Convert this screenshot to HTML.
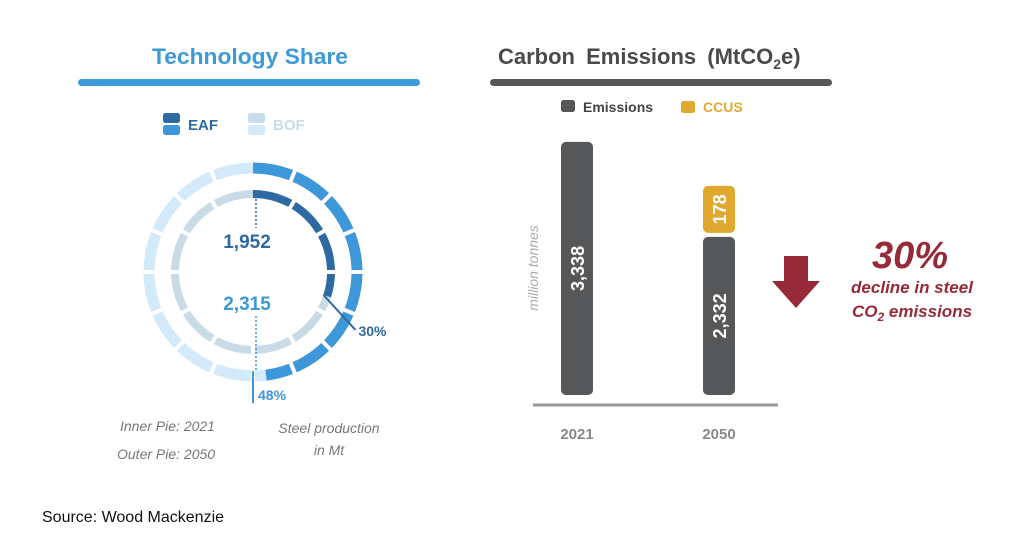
<!DOCTYPE html>
<html><head><meta charset="utf-8"><style>
body{margin:0;background:#fff;width:1024px;height:536px;overflow:hidden;font-family:"Liberation Sans",sans-serif}
svg text{font-family:"Liberation Sans",sans-serif}
</style></head><body>
<svg id="c" width="1024" height="536">
<text x="152" y="64" textLength="196" lengthAdjust="spacingAndGlyphs" font-size="22" font-weight="bold" fill="#3d9ad8">Technology  Share</text>
<rect x="78" y="79" width="342" height="7" rx="3.5" fill="#3d9ad8"/>
<text x="498" y="64" font-size="22" font-weight="bold" word-spacing="5" fill="#4a4a4c">Carbon Emissions (MtCO<tspan font-size="14" dy="5">2</tspan><tspan dy="-5">e)</tspan></text>
<rect x="490" y="79" width="342" height="7" rx="3.5" fill="#555759"/>
<g><rect x="163" y="113" width="17" height="10" rx="2.5" fill="#2e6aa1"/><rect x="163" y="125" width="17" height="10" rx="2.5" fill="#3d97d8"/><text x="188" y="130" font-size="15" font-weight="bold" fill="#2e6aa1">EAF</text></g>
<g><rect x="248" y="113" width="17" height="10" rx="2.5" fill="#c7dded"/><rect x="248" y="125" width="17" height="10" rx="2.5" fill="#d2eafa"/><text x="273" y="130" font-size="15" font-weight="bold" fill="#c7dded">BOF</text></g>
<g><rect x="561" y="100" width="14" height="12" rx="2.5" fill="#555759"/><text x="583" y="112" font-size="14" font-weight="bold" fill="#444">Emissions</text></g>
<g><rect x="681" y="101" width="14" height="12" rx="2.5" fill="#e0a82e"/><text x="703" y="112" font-size="14" font-weight="bold" fill="#e0a82e">CCUS</text></g>
<g id="donut"></g>
<g id="bars"></g>
<line x1="533" y1="405" x2="778" y2="405" stroke="#999" stroke-width="3"/>
<text transform="translate(538,268) rotate(-90)" text-anchor="middle" font-size="14" font-style="italic" fill="#aaa">million tonnes</text>
<g><rect x="784" y="256" width="24" height="26" fill="#962a39"/><polygon points="772,281 820,281 796,308" fill="#962a39"/></g>
<text x="910" y="268" text-anchor="middle" font-size="38" font-weight="bold" font-style="italic" fill="#962a39">30%</text>
<text x="912" y="293" text-anchor="middle" font-size="17" font-weight="bold" font-style="italic" fill="#962a39">decline in steel</text>
<text x="912" y="317" text-anchor="middle" font-size="17" font-weight="bold" font-style="italic" fill="#962a39">CO<tspan font-size="12" dy="4">2</tspan><tspan dy="-4"> emissions</tspan></text>
<text x="120" y="431" font-size="14" font-style="italic" fill="#777">Inner Pie: 2021</text>
<text x="117" y="459" font-size="14" font-style="italic" fill="#777">Outer Pie: 2050</text>
<text x="329" y="433" text-anchor="middle" font-size="14" font-style="italic" fill="#777">Steel production</text>
<text x="329" y="455" text-anchor="middle" font-size="14" font-style="italic" fill="#777">in Mt</text>
<text x="42" y="522" font-size="16" fill="#111">Source: Wood Mackenzie</text>
</svg>
<script>
const rings=["inner-2021","outer-2050"];
const eafShare=[30,48];
const totals=[1952,2315];
const years=["2021","2050"];
const emissions=[3338,2332];
const ccus=[0,178];

const NS="http://www.w3.org/2000/svg";
function mk(t,a,p){const e=document.createElementNS(NS,t);for(const k in a)e.setAttribute(k,a[k]);p.appendChild(e);return e;}
const cx=253,cy=272;
const geo=[{r:78,w:8,segs:12,eaf:"#2e6aa1",bof:"#c9dbe6"},{r:104,w:11,segs:16,eaf:"#3d97d8",bof:"#d2eafa"}];
const dg=document.getElementById("donut");
function pt(r,deg){const a=(deg-90)*Math.PI/180;return [cx+r*Math.cos(a),cy+r*Math.sin(a)];}
function arc(r,a0,a1){const p0=pt(r,a0),p1=pt(r,a1);return `M${p0[0]},${p0[1]} A${r},${r} 0 ${a1-a0>180?1:0} 1 ${p1[0]},${p1[1]}`;}
rings.forEach((nm,i)=>{
  const g=geo[i],ang=eafShare[i]*3.6;
  let e=mk("path",{d:arc(g.r,ang,360),fill:"none",stroke:g.bof,"stroke-width":g.w},dg);
  
  
  e=mk("path",{d:arc(g.r,0,ang),fill:"none",stroke:g.eaf,"stroke-width":g.w},dg);
  
  
  for(let s=1;s<g.segs;s++){const d=s*360/g.segs;const a=pt(g.r-g.w,d),b=pt(g.r+g.w,d);mk("line",{x1:a[0],y1:a[1],x2:b[0],y2:b[1],stroke:"#fff","stroke-width":4},dg);}
});
let t=mk("text",{x:cx-6,y:248,"text-anchor":"middle","font-size":19,"font-weight":"bold",fill:"#2e6aa1"},dg);t.textContent=totals[0].toLocaleString("en-US");


t=mk("text",{x:cx-6,y:310,"text-anchor":"middle","font-size":19,"font-weight":"bold",fill:"#3d97d8"},dg);t.textContent=totals[1].toLocaleString("en-US");


mk("line",{x1:cx+3,y1:cy-geo[0].r+5,x2:cx+3,y2:228,stroke:"#2e6aa1","stroke-width":1.5,"stroke-dasharray":"2,2"},dg);
mk("line",{x1:cx+3,y1:316,x2:cx+3,y2:cy+geo[1].r-6,stroke:"#3d97d8","stroke-width":1.5,"stroke-dasharray":"2,2"},dg);
const a30=eafShare[0]*3.6,p1=pt(geo[0].r-4,a30),p2=pt(geo[1].r+10,a30+8);
mk("line",{x1:p1[0],y1:p1[1],x2:p2[0],y2:p2[1]+8,stroke:"#2e6aa1","stroke-width":2},dg);
t=mk("text",{x:p2[0]+3,y:p2[1]+14,"font-size":14,"font-weight":"bold",fill:"#2e6aa1"},dg);t.textContent=eafShare[0]+"%";


const p3=pt(geo[1].r,eafShare[1]*3.6);
mk("line",{x1:cx,y1:p3[1]-4,x2:cx,y2:p3[1]+28,stroke:"#3d97d8","stroke-width":2},dg);
t=mk("text",{x:cx+5,y:p3[1]+25,"font-size":14,"font-weight":"bold",fill:"#3d97d8"},dg);t.textContent=eafShare[1]+"%";


const bg=document.getElementById("bars");
const base=395,bw=32;
const xs=i=>561+i*142;
const h=v=>-62+0.0944*v;
years.forEach((y,i)=>{
  const x=xs(i),hh=h(emissions[i]);
  let r=mk("rect",{x:x,y:base-hh,width:bw,height:hh,rx:5,fill:"#555759"},bg);
  
  
  let tx=mk("text",{transform:`translate(${x+bw/2+7},${base-hh/2}) rotate(-90)`,"text-anchor":"middle","font-size":18,"font-weight":"bold",fill:"#fff"},bg);
  tx.textContent=emissions[i].toLocaleString("en-US");
  
  
  if(ccus[i]>0){
    const ch=Math.max(47,h(ccus[i]));const top=base-hh-4-ch;
    r=mk("rect",{x:x,y:top,width:bw,height:ch,rx:5,fill:"#e0a82e"},bg);
    
    
    tx=mk("text",{transform:`translate(${x+bw/2+7},${top+ch/2}) rotate(-90)`,"text-anchor":"middle","font-size":18,"font-weight":"bold",fill:"#fff"},bg);
    tx.textContent=ccus[i];
    
    
  }
  tx=mk("text",{x:x+bw/2,y:439,"text-anchor":"middle","font-size":15,"font-weight":"bold",fill:"#888"},bg);
  tx.textContent=y;
  
  
});
</script>
</body></html>
